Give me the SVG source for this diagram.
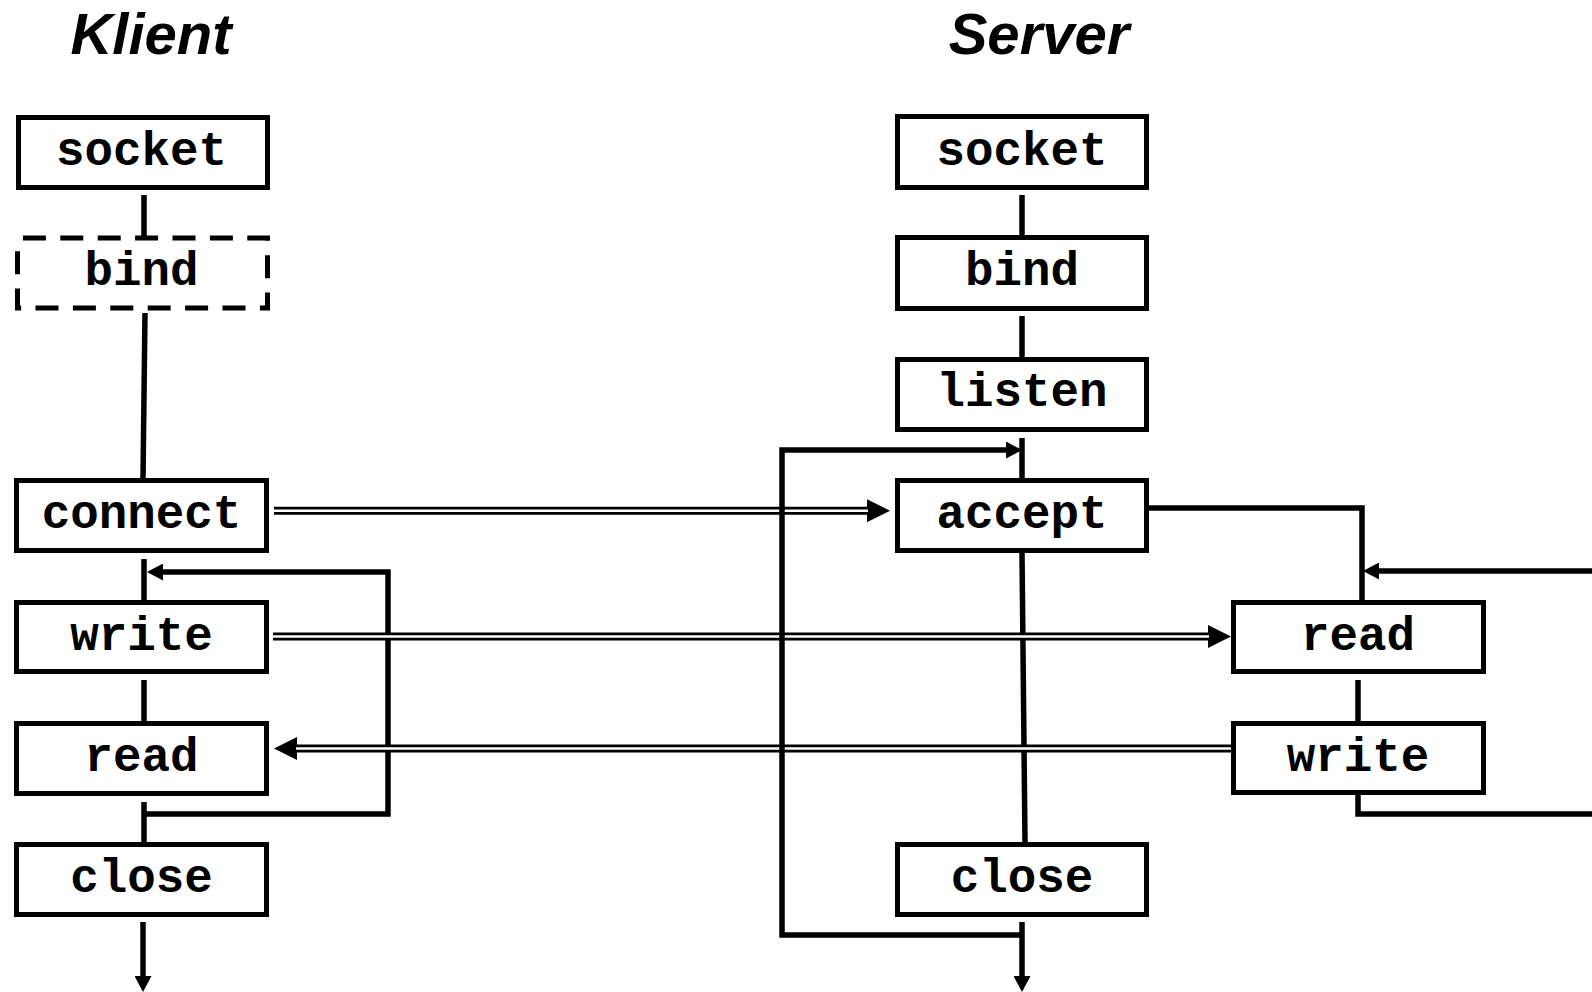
<svg xmlns="http://www.w3.org/2000/svg" width="1592" height="992" viewBox="0 0 1592 992">
<style>
.box{fill:#fff;stroke:#000;stroke-width:5}
.dash{stroke-dasharray:23 14.4;stroke-dashoffset:32}
.lbl{font-family:"Liberation Mono","Courier New",monospace;font-weight:bold;font-size:47.5px;text-anchor:middle;fill:#000}
.title{font-family:"Liberation Sans",Arial,sans-serif;font-weight:bold;font-style:italic;font-size:58px;text-anchor:middle;fill:#000}
.ln{fill:none;stroke:#000;stroke-width:5.5;stroke-linejoin:miter}
.dbl{fill:none;stroke:#000;stroke-width:8}
.dblw{fill:none;stroke:#fff;stroke-width:2.6}
</style>
<defs>
<marker id="a" markerUnits="userSpaceOnUse" markerWidth="16" markerHeight="17" refX="0" refY="8.5" orient="auto">
<path d="M0,0 L16,8.5 L0,17 z" fill="#000"/>
</marker>
<marker id="d" markerUnits="userSpaceOnUse" markerWidth="23" markerHeight="23" refX="0" refY="11.5" orient="auto">
<path d="M0,0 L23,11.5 L0,23 z" fill="#000"/>
</marker>
</defs>
<rect width="1592" height="992" fill="#fff"/>
<text class="title" x="151" y="54">Klient</text>
<text class="title" x="1039" y="54">Server</text>

<g id="connectors">
<!-- client flow -->
<line class="ln" x1="144" y1="195" x2="144" y2="238"/>
<line class="ln" x1="145" y1="313" x2="143" y2="478"/>
<line class="ln" x1="144" y1="559" x2="144" y2="600"/>
<line class="ln" x1="144" y1="680" x2="144" y2="721"/>
<line class="ln" x1="144" y1="802" x2="144" y2="842"/>
<line class="ln" x1="143" y1="922" x2="143" y2="976" marker-end="url(#a)"/>
<polyline class="ln" points="144,814 388,814 388,572 163,572" marker-end="url(#a)"/>
<!-- server flow -->
<line class="ln" x1="1022" y1="195" x2="1022" y2="235"/>
<line class="ln" x1="1022" y1="316" x2="1022" y2="357"/>
<line class="ln" x1="1022" y1="438" x2="1022" y2="478"/>
<line class="ln" x1="1022" y1="553" x2="1025" y2="842"/>
<line class="ln" x1="1022" y1="922" x2="1022" y2="976" marker-end="url(#a)"/>
<polyline class="ln" points="1149,508 1362,508 1362,600"/>
<line class="ln" x1="1358" y1="680" x2="1358" y2="721"/>
<polyline class="ln" points="1592,571 1379,571" marker-end="url(#a)"/>
<polyline class="ln" points="1358,795 1358,814 1592,814"/>
<!-- double-line messages -->
<line class="dbl" x1="274" y1="510.7" x2="867" y2="510.7" marker-end="url(#d)"/>
<line class="dblw" x1="274" y1="510.7" x2="868" y2="510.7"/>
<line class="dbl" x1="273" y1="636.5" x2="1208" y2="636.5" marker-end="url(#d)"/>
<line class="dblw" x1="273" y1="636.5" x2="1209" y2="636.5"/>
<line class="dbl" x1="1231" y1="748.5" x2="297" y2="748.5" marker-end="url(#d)"/>
<line class="dblw" x1="1231" y1="748.5" x2="296" y2="748.5"/>
<!-- server accept loop -->
<polyline class="ln" points="1022,935 782,935 782,450 1006,450" marker-end="url(#a)"/>
</g>

<g id="c-socket"><rect class="box" x="18.5" y="117.5" width="249" height="70"/><text class="lbl" x="141.5" y="165">socket</text></g>
<g id="c-bind"><rect class="box dash" x="17.5" y="238" width="250" height="70"/><text class="lbl" x="141.5" y="285">bind</text></g>
<g id="c-connect"><rect class="box" x="16.5" y="480.5" width="250" height="70"/><text class="lbl" x="141.5" y="528">connect</text></g>
<g id="c-write"><rect class="box" x="16.5" y="602.5" width="250" height="69"/><text class="lbl" x="141.5" y="650">write</text></g>
<g id="c-read"><rect class="box" x="16.5" y="723.5" width="250" height="70"/><text class="lbl" x="141.5" y="771">read</text></g>
<g id="c-close"><rect class="box" x="16.5" y="844.5" width="250" height="70"/><text class="lbl" x="141.5" y="892">close</text></g>

<g id="s-socket"><rect class="box" x="897.5" y="116.5" width="249" height="71"/><text class="lbl" x="1022" y="165">socket</text></g>
<g id="s-bind"><rect class="box" x="897.5" y="237.5" width="249" height="71"/><text class="lbl" x="1022" y="285">bind</text></g>
<g id="s-listen"><rect class="box" x="897.5" y="359.5" width="249" height="70"/><text class="lbl" x="1022" y="406">listen</text></g>
<g id="s-accept"><rect class="box" x="897.5" y="480.5" width="249" height="70"/><text class="lbl" x="1022" y="528">accept</text></g>
<g id="s-close"><rect class="box" x="897.5" y="844.5" width="249" height="70"/><text class="lbl" x="1022" y="892">close</text></g>
<g id="s-read"><rect class="box" x="1233.5" y="602.5" width="250" height="69"/><text class="lbl" x="1358" y="650">read</text></g>
<g id="s-write"><rect class="box" x="1233.5" y="723.5" width="250" height="69"/><text class="lbl" x="1358" y="771">write</text></g>
</svg>
